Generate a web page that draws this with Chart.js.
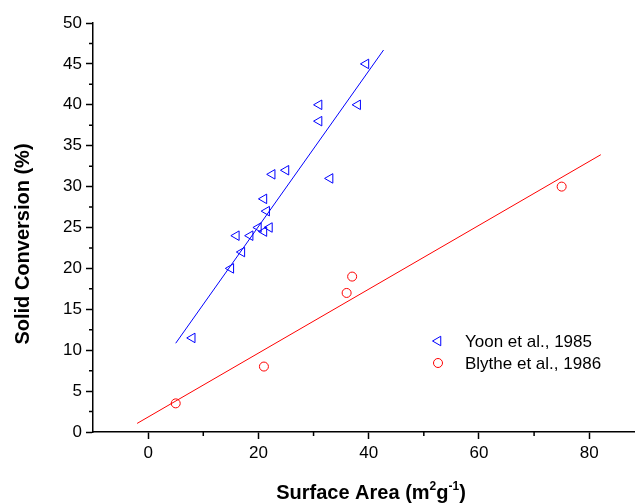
<!DOCTYPE html>
<html>
<head>
<meta charset="utf-8">
<script src="https://cdn.jsdelivr.net/npm/chart.js@4/dist/chart.umd.min.js"></script>
<style>
  html, body { margin: 0; padding: 0; background: #fff; }
  #wrap { width: 635px; height: 503px; }
</style>
</head>
<body>
<div id="wrap"><canvas id="chart" width="635" height="503"></canvas></div>
<script>
// Yoon et al., 1985
var yoonX = [39.5, 31, 38, 31, 22.5, 25, 33, 21, 21.5, 20, 22, 21, 18.5, 16, 17, 15, 8]
var yoonY = [45, 40, 40, 38, 31.5, 32, 31, 28.5, 27, 25, 25, 24.5, 24, 24, 22, 20, 11.5]
// Blythe et al., 1986
var blytheX = [5, 21, 36, 37, 75]
var blytheY = [3.5, 8, 17, 19, 30]
// fitted lines, end points
var yoonFitX = [5, 42.7]
var yoonFitY = [10.85, 46.7]
var blytheFitX = [-2, 82.1]
var blytheFitY = [1.05, 33.9]

var xMajor = [0, 20, 40, 60, 80]
var xMinor = [10, 30, 50, 70]
var yMinor = [2.5, 7.5, 12.5, 17.5, 22.5, 27.5, 32.5, 37.5, 42.5, 47.5]
var legendNames = ["Yoon et al., 1985", "Blythe et al., 1986"]

var FONT = '"Liberation Sans", Arial, sans-serif'
var BLUE = '#0000ff'
var RED = '#ff0000'

function pts(xs, ys) {
    var rtr = []
    for (var i = 0; i < xs.length; i++) {
        rtr.push({x: xs[i], y: ys[i]})
    }
    return rtr
}

// short ticks between the labelled ones
var minorTicks = {
    id: 'minorTicks',
    afterDraw: function (chart) {
        var ctx = chart.ctx
        var xs = chart.scales.x, ys = chart.scales.y
        var area = chart.chartArea
        ctx.save()
        ctx.strokeStyle = '#000'
        ctx.lineWidth = 1.5
        ctx.beginPath()
        xMinor.forEach(function (v) {
            var px = xs.getPixelForValue(v)
            ctx.moveTo(px, area.bottom)
            ctx.lineTo(px, area.bottom + 4)
        })
        yMinor.forEach(function (v) {
            var py = ys.getPixelForValue(v)
            ctx.moveTo(area.left, py)
            ctx.lineTo(area.left - 4, py)
        })
        ctx.stroke()
        ctx.restore()
    }
}

// axis titles (x title has superscripts) and the legend box
var titlesAndLegend = {
    id: 'titlesAndLegend',
    afterDraw: function (chart) {
        var ctx = chart.ctx
        ctx.save()
        ctx.fillStyle = '#000'

        // y title
        ctx.font = 'bold 20px ' + FONT
        ctx.textAlign = 'center'
        ctx.textBaseline = 'middle'
        ctx.translate(23, 244)
        ctx.rotate(-Math.PI / 2)
        ctx.fillText('Solid Conversion (%)', 0, 0)
        ctx.setTransform(1, 0, 0, 1, 0, 0)

        // x title
        var parts = [
            ['Surface Area (m', false], ['2', true], ['g', false], ['-1', true], [')', false]
        ]
        var big = 'bold 20px ' + FONT, small = 'bold 12px ' + FONT
        var total = 0
        parts.forEach(function (p) {
            ctx.font = p[1] ? small : big
            total += ctx.measureText(p[0]).width
        })
        var x = 371 - total / 2, base = 499
        ctx.textAlign = 'left'
        ctx.textBaseline = 'alphabetic'
        parts.forEach(function (p) {
            ctx.font = p[1] ? small : big
            ctx.fillText(p[0], x, p[1] ? base - 9 : base)
            x += ctx.measureText(p[0]).width
        })

        // legend
        var sets = [chart.data.datasets[0], chart.data.datasets[1]]
        var rows = [341, 363]
        ctx.font = '17px ' + FONT
        ctx.textBaseline = 'middle'
        for (var i = 0; i < 2; i++) {
            var ds = sets[i]
            ctx.strokeStyle = ds.borderColor
            ctx.fillStyle = 'rgba(0,0,0,0)'
            ctx.lineWidth = 1
            Chart.helpers.drawPoint(ctx, {
                pointStyle: ds.pointStyle,
                rotation: ds.rotation || 0,
                radius: ds.pointRadius,
                borderWidth: 1
            }, 438, rows[i])
            ctx.fillStyle = '#000'
            ctx.fillText(legendNames[i], 465, rows[i] + 1)
        }
        ctx.restore()
    }
}

var tickFont = {family: FONT, size: 17}

var config = {
    type: 'scatter',
    data: {
        datasets: [
            {
                label: legendNames[0],
                data: pts(yoonX, yoonY),
                pointStyle: 'triangle',
                rotation: -90,
                pointRadius: 5.5,
                borderWidth: 1,
                borderColor: BLUE,
                backgroundColor: 'rgba(0,0,0,0)'
            },
            {
                label: legendNames[1],
                data: pts(blytheX, blytheY),
                pointStyle: 'circle',
                pointRadius: 4.5,
                borderWidth: 1,
                borderColor: RED,
                backgroundColor: 'rgba(0,0,0,0)'
            },
            {
                type: 'line',
                data: pts(yoonFitX, yoonFitY),
                borderColor: BLUE,
                borderWidth: 1,
                pointRadius: 0
            },
            {
                type: 'line',
                data: pts(blytheFitX, blytheFitY),
                borderColor: RED,
                borderWidth: 1,
                pointRadius: 0
            }
        ]
    },
    options: {
        responsive: false,
        animation: false,
        layout: {autoPadding: false, padding: {top: 23, right: 0, left: 0, bottom: 0}},
        plugins: {
            legend: {display: false},
            tooltip: {enabled: false}
        },
        scales: {
            x: {
                type: 'linear',
                min: -10,
                max: 88.3,
                afterBuildTicks: function (scale) {
                    scale.ticks = xMajor.map(function (v) { return {value: v} })
                },
                afterFit: function (scale) { scale.height = 71 },
                grid: {drawOnChartArea: false, drawTicks: true, tickLength: 7, tickColor: '#000', tickWidth: 1.5},
                border: {display: true, color: '#000', width: 1.5},
                ticks: {font: tickFont, color: '#000', padding: 4, maxRotation: 0}
            },
            y: {
                type: 'linear',
                min: 0,
                max: 50,
                afterFit: function (scale) { scale.width = 93 },
                grid: {drawOnChartArea: false, drawTicks: true, tickLength: 7, tickColor: '#000', tickWidth: 1.5},
                border: {display: true, color: '#000', width: 1.5},
                ticks: {font: tickFont, color: '#000', stepSize: 5, padding: 4}
            }
        }
    },
    plugins: [minorTicks, titlesAndLegend]
}

var chart = new Chart(document.getElementById('chart').getContext('2d'), config)
</script>
</body>
</html>
